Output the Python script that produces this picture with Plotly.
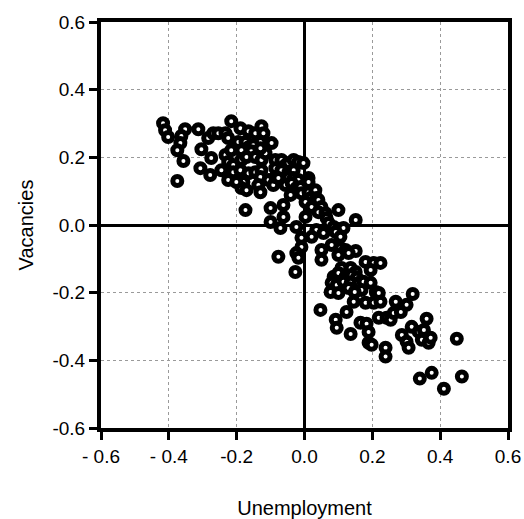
import plotly.graph_objects as go

unemployment = [
    -0.417, -0.411, -0.402, -0.352, -0.363, -0.366, -0.375, -0.313, -0.304, -0.357,
    -0.375, -0.284, -0.269, -0.254, -0.233, -0.225, -0.216, -0.275, -0.307, -0.278,
    -0.245, -0.233, -0.225, -0.216, -0.225, -0.210, -0.210,
    -0.189, -0.165, -0.145, -0.127, -0.121, -0.130, -0.097, -0.195, -0.174, -0.165,
    -0.151, -0.186, -0.157, -0.186, -0.171, -0.145, -0.127, -0.115, -0.130,
    -0.189, -0.165, -0.145, -0.127, -0.130, -0.180, -0.186, -0.171, -0.201, -0.136,
    -0.130, -0.174, -0.106, -0.092, -0.086,
    -0.086, -0.068, -0.056, -0.047, -0.032, -0.018, -0.003, -0.086, -0.068, -0.047,
    -0.032, -0.077, -0.047, -0.032, -0.018, 0.012, -0.056, -0.038, -0.024, -0.012,
    0.012, -0.009, 0.012, 0.032, -0.041, 0.018, 0.035, 0.003, 0.041, 0.021,
    0.050, 0.041, 0.062, 0.065, 0.100,
    -0.100, -0.062, -0.062, 0.003, -0.100, -0.071, -0.024, 0.071, 0.086, 0.100,
    0.115, 0.151, 0.035, 0.056, -0.009, 0.021, 0.092, 0.106,
    0.080, 0.106, 0.121, 0.151, -0.009, -0.024, -0.018, 0.050, 0.050, 0.100,
    0.130, -0.077, -0.027, 0.109, 0.136, 0.151, 0.180, 0.204, 0.224, 0.195,
    0.086, 0.100, 0.121, 0.139, 0.154, 0.080, 0.095, 0.115, 0.136, 0.160,
    0.174, 0.195, 0.077, 0.100, 0.130, 0.168, 0.210, 0.145, 0.180, 0.204,
    0.224, 0.269, 0.047, 0.124, 0.092, 0.095, 0.165, 0.183, 0.189, 0.136,
    0.219, 0.242, 0.254, 0.263, 0.284, 0.189, 0.198, 0.239, 0.239, 0.219,
    0.301, 0.319, 0.316, 0.337, 0.352, 0.360, 0.287, 0.301, 0.307, 0.346,
    0.366, 0.372, 0.449, 0.340, 0.375, 0.464, 0.411, 0.148,
]

vacancies = [
    0.301, 0.280, 0.260, 0.283, 0.263, 0.242, 0.221, 0.283, 0.224, 0.189,
    0.130, 0.257, 0.271, 0.271, 0.271, 0.257, 0.307, 0.198, 0.168, 0.148,
    0.162, 0.207, 0.186, 0.221, 0.133, 0.177, 0.156,
    0.286, 0.277, 0.271, 0.292, 0.271, 0.245, 0.242, 0.245, 0.245, 0.230,
    0.236, 0.221, 0.218, 0.192, 0.201, 0.201, 0.192, 0.212, 0.227,
    0.162, 0.153, 0.156, 0.162, 0.142, 0.127, 0.109, 0.103, 0.127, 0.118,
    0.097, 0.044, 0.133, 0.118, 0.142,
    0.192, 0.192, 0.177, 0.183, 0.192, 0.186, 0.183, 0.168, 0.162, 0.156,
    0.162, 0.139, 0.142, 0.139, 0.133, 0.139, 0.118, 0.124, 0.109, 0.112,
    0.127, 0.094, 0.097, 0.103, 0.089, 0.080, 0.080, 0.068, 0.074, 0.053,
    0.053, 0.038, 0.035, 0.021, 0.044,
    0.050, 0.059, 0.024, 0.024, 0.009, -0.009, -0.006, 0.006, -0.006, -0.012,
    -0.009, 0.015, -0.015, -0.024, -0.038, -0.035, -0.021, -0.035,
    -0.059, -0.068, -0.074, -0.077, -0.065, -0.083, -0.097, -0.074, -0.103, -0.089,
    -0.083, -0.094, -0.139, -0.127, -0.127, -0.139, -0.109, -0.112, -0.112, -0.133,
    -0.153, -0.142, -0.153, -0.148, -0.156, -0.171, -0.177, -0.168, -0.171, -0.171,
    -0.168, -0.171, -0.198, -0.201, -0.186, -0.192, -0.198, -0.227, -0.230, -0.230,
    -0.227, -0.227, -0.251, -0.257, -0.280, -0.304, -0.289, -0.292, -0.316, -0.322,
    -0.274, -0.274, -0.280, -0.260, -0.257, -0.348, -0.354, -0.363, -0.389, -0.201,
    -0.236, -0.204, -0.301, -0.316, -0.310, -0.277, -0.325, -0.345, -0.363, -0.339,
    -0.348, -0.333, -0.336, -0.454, -0.437, -0.448, -0.484, -0.198,
]

x_ticks = [-0.6, -0.4, -0.2, 0.0, 0.2, 0.4, 0.6]
x_tick_labels = ["- 0.6", "- 0.4", "-0.2", "0.0", "0.2", "0.4", "0.6"]
y_ticks = [-0.6, -0.4, -0.2, 0.0, 0.2, 0.4, 0.6]
y_tick_labels = ["-0.6", "-0.4", "-0.2", "0.0", "0.2", "0.4", "0.6"]

fig = go.Figure()
fig.add_trace(go.Scatter(
    x=unemployment, y=vacancies, mode="markers",
    marker=dict(symbol="circle", size=9, color="white",
                line=dict(color="black", width=5)),
    showlegend=False, hoverinfo="skip",
))

family = "Liberation Sans, Arial, sans-serif"
tick_font = dict(family=family, size=19, color="black")
title_font = dict(family=family, size=20, color="black")

axis_common = dict(
    showline=True, linecolor="black", linewidth=4, mirror=True,
    ticks="outside", ticklen=8, tickwidth=3, tickcolor="black",
    showgrid=True, gridcolor="#9a9a9a", gridwidth=1, griddash="dot",
    zeroline=True, zerolinecolor="black", zerolinewidth=3,
    tickfont=tick_font, automargin=False,
)

fig.update_xaxes(range=[-0.6, 0.6], tickvals=x_ticks, ticktext=x_tick_labels,
                 title=dict(text="Unemployment", font=title_font, standoff=50),
                 **axis_common)
fig.update_yaxes(range=[-0.6, 0.6], tickvals=y_ticks, ticktext=y_tick_labels,
                 title=dict(text="Vacancies", font=title_font, standoff=14),
                 **axis_common)

fig.update_layout(
    width=524, height=519,
    margin=dict(l=101, r=16, t=22, b=91, pad=0),
    plot_bgcolor="white", paper_bgcolor="white",
    font=tick_font,
)

fig.write_html(
    "out.html",
    config={"displayModeBar": False},
    post_script="document.body.style.margin='0';document.body.style.overflow='hidden';",
)
